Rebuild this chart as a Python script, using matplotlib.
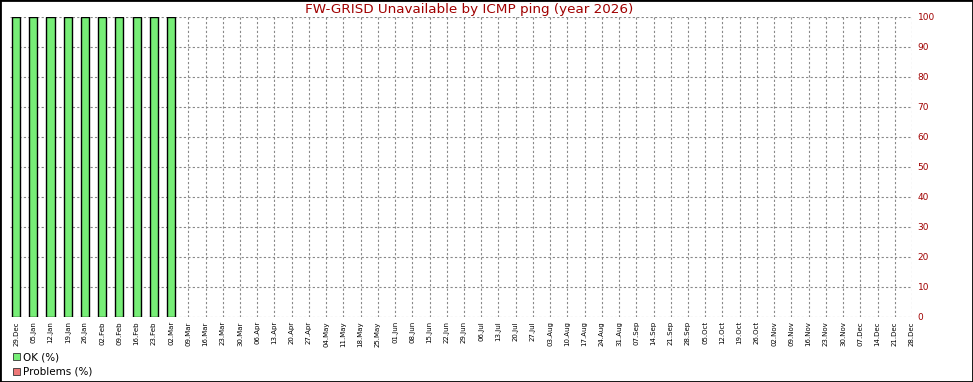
import numpy as np
import matplotlib.pyplot as plt
from matplotlib.patches import Patch, Rectangle

weeks = ["29.Dec", "05.Jan", "12.Jan", "19.Jan", "26.Jan", "02.Feb", "09.Feb", "16.Feb",
         "23.Feb", "02.Mar", "09.Mar", "16.Mar", "23.Mar", "30.Mar", "06.Apr", "13.Apr",
         "20.Apr", "27.Apr", "04.May", "11.May", "18.May", "25.May", "01.Jun", "08.Jun",
         "15.Jun", "22.Jun", "29.Jun", "06.Jul", "13.Jul", "20.Jul", "27.Jul", "03.Aug",
         "10.Aug", "17.Aug", "24.Aug", "31.Aug", "07.Sep", "14.Sep", "21.Sep", "28.Sep",
         "05.Oct", "12.Oct", "19.Oct", "26.Oct", "02.Nov", "09.Nov", "16.Nov", "23.Nov",
         "30.Nov", "07.Dec", "14.Dec", "21.Dec", "28.Dec"]
ok_pct = [100] * 10 + [0] * 43
problems_pct = [0] * 53

green = "#77ee77"
red = "#ee7777"
dark_red = "#a00000"

fig = plt.figure(figsize=(9.73, 3.82), dpi=100)
ax = fig.add_axes([10 / 973, 65 / 382, 902 / 973, 300 / 382])

x = np.arange(len(weeks))
ok = np.array(ok_pct)
pr = np.array(problems_pct)
ax.bar(x[ok > 0], ok[ok > 0], width=0.47, color=green, edgecolor="black", linewidth=1, zorder=3)
ax.bar(x[pr > 0], pr[pr > 0], bottom=ok[pr > 0], width=0.47, color=red, edgecolor="black",
       linewidth=1, zorder=3)

ax.set_xlim(-0.35, len(weeks) - 1)
ax.set_ylim(0, 100)
ax.set_xticks(x)
ax.set_xticklabels(weeks, rotation=90, fontsize=5)
ax.set_yticks(np.arange(0, 101, 10))
ax.yaxis.tick_right()
ax.tick_params(axis="y", colors=dark_red, labelsize=6.5, length=0, pad=4)
ax.tick_params(axis="x", length=0, pad=3)
for s in ax.spines.values():
    s.set_visible(False)
ax.grid(True, color="#888888", linestyle=(0, (2, 2)), linewidth=0.8, zorder=0)
ax.set_axisbelow(True)

fig.text(469 / 973, 1 - 9 / 382, "FW-GRISD Unavailable by ICMP ping (year 2026)",
         ha="center", va="center", color=dark_red, fontsize=9.7)

handles = [Patch(facecolor=green, edgecolor="#333333", linewidth=0.6, label="OK (%)"),
           Patch(facecolor=red, edgecolor="#333333", linewidth=0.6, label="Problems (%)")]
fig.legend(handles=handles, loc="lower left", bbox_to_anchor=(7 / 973, -0.003), frameon=False,
           fontsize=7.5, handlelength=0.6, handleheight=0.6, handletextpad=0.3,
           labelspacing=0.45, borderaxespad=0.2)

fig.patches.append(Rectangle((0, 0), 1, 1, transform=fig.transFigure, fill=False,
                             edgecolor="black", linewidth=2))

fig.savefig("out.png", dpi=100)
